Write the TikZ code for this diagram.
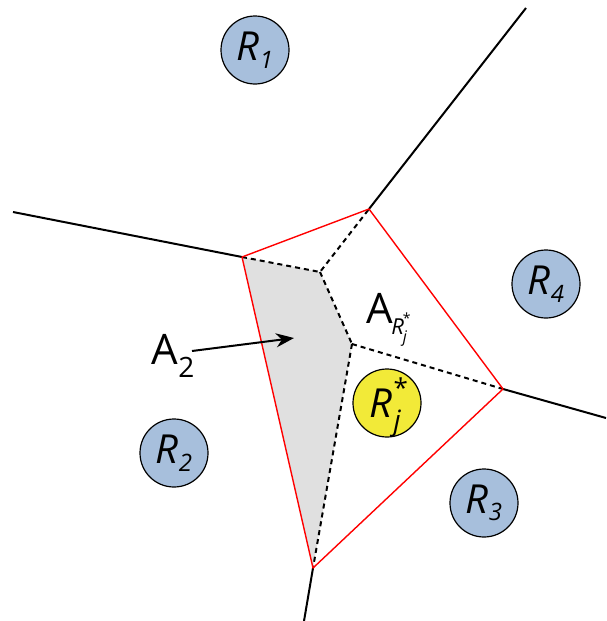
\documentclass[tikz,border=0pt]{standalone}
\usepackage{fontspec}
\setmainfont{Open Sans}
\usetikzlibrary{arrows.meta}
\definecolor{regblue}{HTML}{A7BFDC}
\definecolor{regyellow}{HTML}{F2EA38}
\definecolor{cellgray}{HTML}{E0E0E0}
\tikzset{
  region/.style={circle,draw=black,line width=0.6pt,fill=regblue,minimum size=34pt,inner sep=0pt,font=\fontsize{20}{22}\selectfont\itshape},
  edgeline/.style={black,line width=1pt},
  cellline/.style={red,line width=0.7pt},
  dualline/.style={black,line width=1pt,dash pattern=on 2.5pt off 2pt},
  lbl/.style={font=\fontsize{21}{24}\selectfont,inner sep=0pt}
}
\newcommand{\regsub}[1]{\raisebox{-0.35ex}{\fontsize{12}{12}\selectfont #1}}
\begin{document}
\begin{tikzpicture}[x=0.5pt,y=-0.5pt]
\useasboundingbox (0,0) rectangle (606,621);
% vertices
\coordinate (v1) at (242,257);
\coordinate (v2) at (369,209);
\coordinate (v3) at (503,389);
\coordinate (v4) at (313,568);
\coordinate (c1) at (320,272);
\coordinate (c2) at (352,344);
\coordinate (e1) at (13,212);
\coordinate (e2) at (526,8);
\coordinate (e3) at (606,418);
\coordinate (e4) at (304,621);
% gray area
\fill[cellgray] (v1) -- (c1) -- (c2) -- (v4) -- cycle;
% outer black edges
\draw[edgeline] (e1) -- (v1);
\draw[edgeline] (v2) -- (e2);
\draw[edgeline] (v3) -- (e3);
\draw[edgeline] (v4) -- (e4);
% dashed
\draw[dualline] (v1) -- (c1) -- (v2);
\draw[dualline] (c1) -- (c2);
\draw[dualline] (c2) -- (v3);
\draw[dualline] (c2) -- (v4);
% red cell
\draw[cellline,line join=round] (v1) -- (v2) -- (v3) -- (v4) -- cycle;
% regions
\node[region] (r1) at (255,50) {R\regsub{1}};
\node[region] (r2) at (174,453) {R\regsub{2}};
\node[region] (r3) at (484,503) {R\regsub{3}};
\node[region] (r4) at (546,284) {R\regsub{4}};
\node[region,fill=regyellow] (rj) at (387,403) {\makebox[0pt][c]{\smash{\raisebox{-7pt}{\kern-0.1em R\kern0.04em\rlap{\raisebox{0.9ex}{\fontsize{13}{13}\selectfont\upshape *}}\raisebox{-0.65ex}{\fontsize{14}{14}\selectfont j}}}}};
% labels
\node[lbl] (a2) at (173,356) {A\raisebox{-0.55ex}{\fontsize{14}{14}\selectfont 2}};
\coordinate (a2tip) at (294,338);
\draw[black,line width=1pt,-{Stealth[length=9pt,width=7pt]}] (192,351) -- (a2tip);
\node[lbl] (arj) at (387,320) {A\kern-0.05em\raisebox{-0.45ex}{\fontsize{11}{12}\selectfont\itshape R\kern-0.05em\raisebox{0.9ex}{\fontsize{7}{8}\selectfont\upshape *}\kern-0.35em\raisebox{-0.7ex}{\fontsize{8}{9}\selectfont j}}};
\end{tikzpicture}
\end{document}
